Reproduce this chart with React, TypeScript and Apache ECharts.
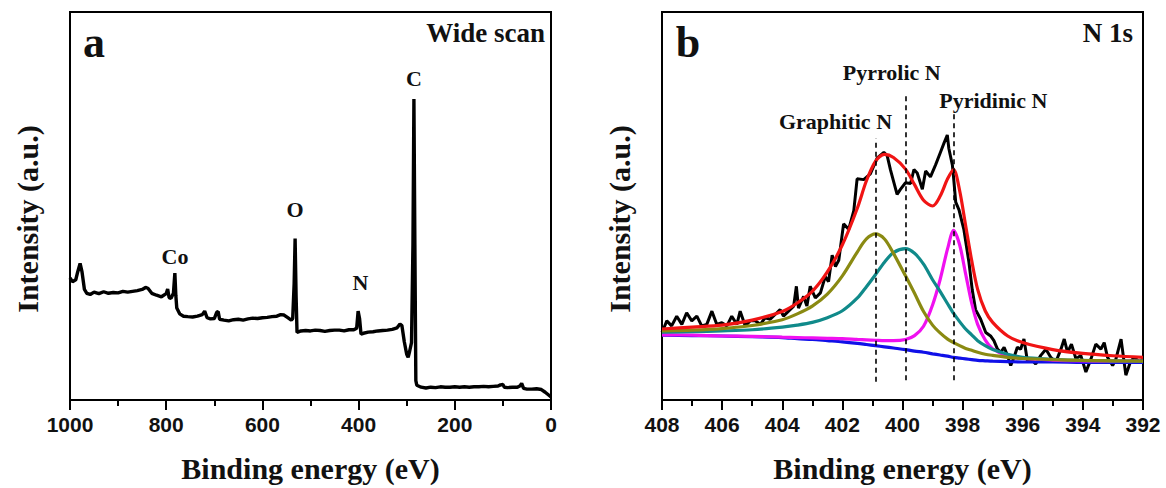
import React, { useEffect, useRef } from "react";
import * as echarts from "echarts";

// ---------- Panel a : wide scan ----------
const wideEnergy = [
  1000, 995, 988, 984, 979, 975, 970, 965, 958, 950, 940, 930, 920, 910, 900, 890, 880, 870, 860, 850,
  843, 838, 830, 820, 810, 800, 797, 794, 790, 785, 782, 780, 778, 772, 764, 755, 745, 735, 725, 720,
  715, 708, 700, 695, 692, 689, 680, 670, 660, 650, 640, 630, 620, 610, 600, 590, 580, 570, 562, 555,
  548, 540, 537, 534, 532, 530, 528, 520, 510, 500, 490, 480, 470, 460, 450, 440, 430, 420, 410, 404,
  401, 398, 395, 390, 380, 370, 360, 350, 340, 330, 320, 314, 310, 305, 300, 297, 294, 290, 287, 285,
  283, 281, 279, 270, 260, 250, 240, 230, 220, 210, 200, 190, 180, 170, 160, 150, 140, 130, 120, 110,
  105, 100, 97, 90, 80, 70, 64, 61, 57, 50, 40, 30, 20, 12, 5, 0,
];
const wideIntensity = [
  31.5, 30.5, 31, 33, 35.2, 33, 28.5, 27.5, 27.2, 27.8, 27.4, 27.9, 27.5, 27.7, 27.6, 28, 27.8, 28, 28.2, 28.5,
  29, 28.8, 27.5, 27, 26.6, 27.4, 28.6, 26.4, 26.2, 27.5, 32.7, 27, 23.7, 22.2, 21.6, 21.5, 21.4, 21.6, 22, 22.9,
  21.2, 20.9, 21, 22.6, 22.8, 20.8, 20.6, 20.4, 20.7, 20.8, 20.6, 20.9, 21.1, 21, 21.2, 21.3, 21.5, 21.6, 22.0, 21.9,
  21.3, 20.6, 21, 30, 41.6, 27, 17.4, 17.8, 17.9, 17.8, 18, 17.9, 17.7, 17.9, 18, 18, 17.8, 18.1, 18.1, 18.5,
  22.9, 21, 17, 17.2, 17.5, 17.6, 17.8, 17.9, 18, 18.2, 18.6, 19.6, 19.2, 15, 11.8, 11.0, 12.5, 14.8, 40, 77.6,
  40, 5, 3.8, 3.3, 3.1, 3.3, 3.2, 3.4, 3.3, 3.3, 3.4, 3.3, 3.4, 3.3, 3.4, 3.4, 3.5, 3.4, 3.5, 3.6,
  3.9, 4.0, 3.3, 3.2, 3.3, 3.3, 3.7, 4.3, 3.0, 2.8, 2.8, 2.9, 2.7, 2.0, 1.3, 0.8,
];
const wideElements = ["Co", "O", "N", "C"];

// ---------- Panel b : N 1s ----------
const n1sRawEnergy = [
  408.0, 407.84, 407.68, 407.51, 407.34, 407.18, 407.01, 406.84, 406.68, 406.51, 406.34, 406.18, 406.01, 405.84,
  405.68, 405.51, 405.4, 405.23, 405.07, 404.9, 404.73, 404.57, 404.4, 404.23, 404.07, 403.96, 403.79, 403.62,
  403.53, 403.46, 403.29, 403.18, 403.07, 402.9, 402.73, 402.57, 402.46, 402.34, 402.23, 402.12, 401.96, 401.79,
  401.62, 401.51, 401.29, 401.07, 400.84, 400.62, 400.51, 400.4, 400.18, 400.07, 399.9, 399.73, 399.62, 399.51,
  399.34, 399.23, 399.07, 398.9, 398.73, 398.62, 398.51, 398.46, 398.34, 398.29, 398.23, 398.12, 397.96, 397.79,
  397.68, 397.57, 397.4, 397.23, 397.07, 396.96, 396.84, 396.73, 396.62, 396.51, 396.4, 396.29, 396.18, 396.07,
  395.96, 395.84, 395.73, 395.57, 395.4, 395.23, 395.07, 394.9, 394.73, 394.62, 394.51, 394.38, 394.23, 394.07,
  393.9, 393.73, 393.57, 393.4, 393.29, 393.18, 393.01, 392.9, 392.73, 392.57, 392.42, 392.29, 392.12, 392.0,
];
const n1sRawIntensity = [
  17.4, 20.4, 19.1, 21.6, 19.5, 22.5, 20.4, 21.6, 19.1, 19.5, 22.9, 19.5, 19.9, 19.1,
  21.6, 19.5, 22.9, 19.1, 20.4, 20.4, 19.5, 21.2, 20.8, 22.1, 23.3, 21.6, 22.9, 24.2,
  29.3, 23.7, 26.7, 24.2, 29.3, 26.3, 27.6, 31.8, 30.5, 37.3, 34.4, 36.0, 45.4, 44.0,
  48.8, 57.0, 56.8, 58.3, 62.4, 63.8, 63.0, 59.3, 53.0, 54.3, 56.0, 55.8, 59.4, 58.5,
  54.3, 59.0, 57.5, 60.6, 64.0, 66.2, 68.3, 64.9, 60.5, 56.4, 51.0, 49.0, 44.0, 35.5,
  28.4, 23.3, 20.8, 17.4, 16.5, 15.3, 13.1, 12.3, 13.6, 11.5, 8.9, 11.0, 13.6, 13.1,
  15.7, 9.8, 10.6, 9.3, 11.5, 13.1, 11.0, 9.8, 13.1, 15.7, 12.3, 14.4, 10.6, 11.5,
  7.2, 10.6, 14.4, 13.1, 14.8, 11.0, 8.9, 10.6, 15.7, 6.4, 9.8, 11.0, 9.8, 10.5,
];

const fitEnergy = [
  408, 407, 406, 405, 404, 403.5, 403, 402.5, 402, 401.5, 401.2, 400.9, 400.6, 400.3, 399.9, 399.6, 399.3,
  399.0, 398.75, 398.5, 398.3, 398.1, 397.9, 397.7, 397.5, 397.25, 397, 396.5, 396, 395, 394, 393, 392,
];
const fitEnvelope = [
  18.3, 18.8, 19.3, 20.6, 22.8, 25.0, 28.0, 33.0, 40.0, 49.5, 56.5, 61.5, 63.3, 62.5, 59.5, 55.5, 51.5,
  50.0, 52.5, 57.0, 59.4, 54.0, 45.0, 36.0, 28.5, 23.0, 20.0, 16.5, 14.8, 13.0, 12.0, 11.4, 11.0,
];
const fitGraphitic = [
  17.8, 18.0, 18.4, 19.2, 20.7, 22.2, 24.2, 27.3, 32.0, 38.2, 41.5, 42.8, 41.5, 37.8, 32.0, 27.5, 22.8,
  19.3, 17.3, 15.7, 14.8, 14.0, 13.3, 12.8, 12.3, 11.8, 11.5, 11.0, 10.7, 10.4, 10.2, 10.1, 10.0,
];
const fitPyrrolic = [
  17.5, 17.6, 17.8, 18.1, 18.8, 19.3, 20.0, 21.2, 23.0, 26.3, 29.2, 32.3, 35.5, 38.0, 39.0, 37.8, 35.0,
  31.0, 28.0, 24.8, 22.3, 20.2, 18.3, 16.8, 15.3, 14.0, 13.0, 11.8, 11.0, 10.5, 10.2, 10.1, 10.0,
];
const fitPyridinic = [
  16.8, 16.7, 16.5, 16.4, 16.2, 16.1, 16.0, 15.9, 15.8, 15.6, 15.5, 15.4, 15.3, 15.3, 15.6, 16.6, 19.0,
  24.5, 31.0, 39.0, 43.7, 40.0, 32.5, 25.0, 19.5, 15.5, 13.2, 11.3, 10.7, 10.3, 10.1, 10.0, 10.0,
];
const fitBackground = [
  16.7, 16.6, 16.5, 16.3, 16.1, 15.8, 15.6, 15.3, 15.0, 14.6, 14.3, 14.0, 13.7, 13.4, 13.0, 12.6, 12.3,
  11.9, 11.6, 11.3, 11.0, 10.8, 10.6, 10.4, 10.2, 10.1, 10.0, 9.9, 9.8, 9.8, 9.7, 9.7, 9.7,
];

const peakNames = ["Graphitic N", "Pyrrolic N", "Pyridinic N"];
const peakEnergy = [400.9, 399.9, 398.3];
const peakLineTop = [67.4, 78.4, 74.6];
const peakLineBottom = [4.7, 5.1, 5.1];

const SERIF = "'Liberation Serif', 'Times New Roman', serif";
const SANS = "'Liberation Sans', Arial, sans-serif";
const INK = "#111";

function pairs(xs: number[], ys: number[]) {
  return xs.map((x, i) => [x, ys[i]]);
}

function xAxis(gridIndex: number, min: number, max: number, interval: number) {
  return {
    type: "value",
    gridIndex,
    min,
    max,
    interval,
    inverse: true,
    axisLine: { show: true, onZero: false, lineStyle: { color: "#000", width: 2 } },
    axisTick: { show: true, inside: false, length: 10, lineStyle: { color: "#000", width: 2 } },
    minorTick: { show: true, splitNumber: 2, length: 6, lineStyle: { color: "#000", width: 2 } },
    splitLine: { show: false },
    minorSplitLine: { show: false },
    axisLabel: {
      margin: 14,
      fontFamily: SANS,
      fontWeight: "bold",
      fontSize: 21,
      color: INK,
      showMinLabel: true,
      showMaxLabel: true,
      formatter: (v: number) => String(v),
    },
    name: "Binding energy (eV)",
    nameLocation: "middle",
    nameGap: 53,
    nameTextStyle: { fontFamily: SERIF, fontWeight: "bold", fontSize: 30, color: INK },
  };
}

function yAxis(gridIndex: number) {
  return {
    type: "value",
    gridIndex,
    min: 0,
    max: 100,
    axisLine: { show: false },
    axisTick: { show: false },
    axisLabel: { show: false },
    splitLine: { show: false },
  };
}

function txt(text: string, x: number, y: number, size: number, align = "center", rotation = 0) {
  return {
    type: "text",
    x,
    y,
    rotation,
    z: 100,
    style: {
      text,
      fontFamily: SERIF,
      fontWeight: "bold",
      fontSize: size,
      fill: INK,
      align,
      verticalAlign: "middle",
    },
  };
}

function fitLine(name: string, ys: number[], color: string) {
  return {
    type: "line",
    name,
    xAxisIndex: 1,
    yAxisIndex: 1,
    data: pairs(fitEnergy, ys),
    showSymbol: false,
    smooth: 0.3,
    lineStyle: { color, width: 3.2 },
    emphasis: { disabled: true },
  };
}

export default function App() {
  const ref = useRef<HTMLDivElement>(null);
  useEffect(() => {
    const chart = echarts.init(ref.current!, null, { renderer: "svg" });
    const elementPos = [
      [175, 256],
      [295, 209],
      [360.5, 282.5],
      [414, 78],
    ];
    const peakLabelPos = [
      [835.5, 121.7],
      [891.7, 72.7],
      [993.3, 100.7],
    ];
    chart.setOption({
      animation: false,
      backgroundColor: "#fff",
      grid: [
        { left: 70, top: 12, width: 481, height: 393, show: true, borderColor: "#000", borderWidth: 2, backgroundColor: "transparent" },
        { left: 662, top: 12, width: 481, height: 393, show: true, borderColor: "#000", borderWidth: 2, backgroundColor: "transparent" },
      ],
      xAxis: [xAxis(0, 0, 1000, 200), xAxis(1, 392, 408, 2)],
      yAxis: [yAxis(0), yAxis(1)],
      series: [
        {
          type: "line",
          name: "Wide scan",
          xAxisIndex: 0,
          yAxisIndex: 0,
          data: pairs(wideEnergy, wideIntensity),
          showSymbol: false,
          lineStyle: { color: "#000", width: 3.4 },
          emphasis: { disabled: true },
        },
        {
          type: "line",
          name: "N 1s raw",
          xAxisIndex: 1,
          yAxisIndex: 1,
          data: pairs(n1sRawEnergy, n1sRawIntensity),
          showSymbol: false,
          lineStyle: { color: "#000", width: 3 },
          emphasis: { disabled: true },
          markLine: {
            silent: true,
            symbol: "none",
            label: { show: false },
            lineStyle: { color: "#000", width: 1.6, type: [5, 4] },
            data: peakEnergy.map((e, i) => [
              { coord: [e, peakLineBottom[i]] },
              { coord: [e, peakLineTop[i]] },
            ]),
          },
        },
        fitLine("Background", fitBackground, "#1010e8"),
        fitLine("Pyridinic N", fitPyridinic, "#f010f0"),
        fitLine("Pyrrolic N", fitPyrrolic, "#108a8a"),
        fitLine("Graphitic N", fitGraphitic, "#8a8a12"),
        fitLine("Envelope", fitEnvelope, "#f01414"),
      ],
      graphic: [
        txt("a", 94, 42, 44),
        txt("b", 688, 42, 44),
        txt("Wide scan", 545, 33, 27, "right"),
        txt("N 1s", 1133, 33, 27, "right"),
        ...wideElements.map((t, i) => txt(t, elementPos[i][0], elementPos[i][1], 22)),
        ...peakNames.map((t, i) => txt(t, peakLabelPos[i][0], peakLabelPos[i][1], 22)),
        txt("Intensity (a.u.)", 27.5, 219, 30, "center", Math.PI / 2),
        txt("Intensity (a.u.)", 619, 219, 30, "center", Math.PI / 2),
      ],
    });
    return () => chart.dispose();
  }, []);
  return (
    <div
      ref={ref}
      style={{ position: "absolute", left: 0, top: 0, width: 1166, height: 488 }}
    />
  );
}
